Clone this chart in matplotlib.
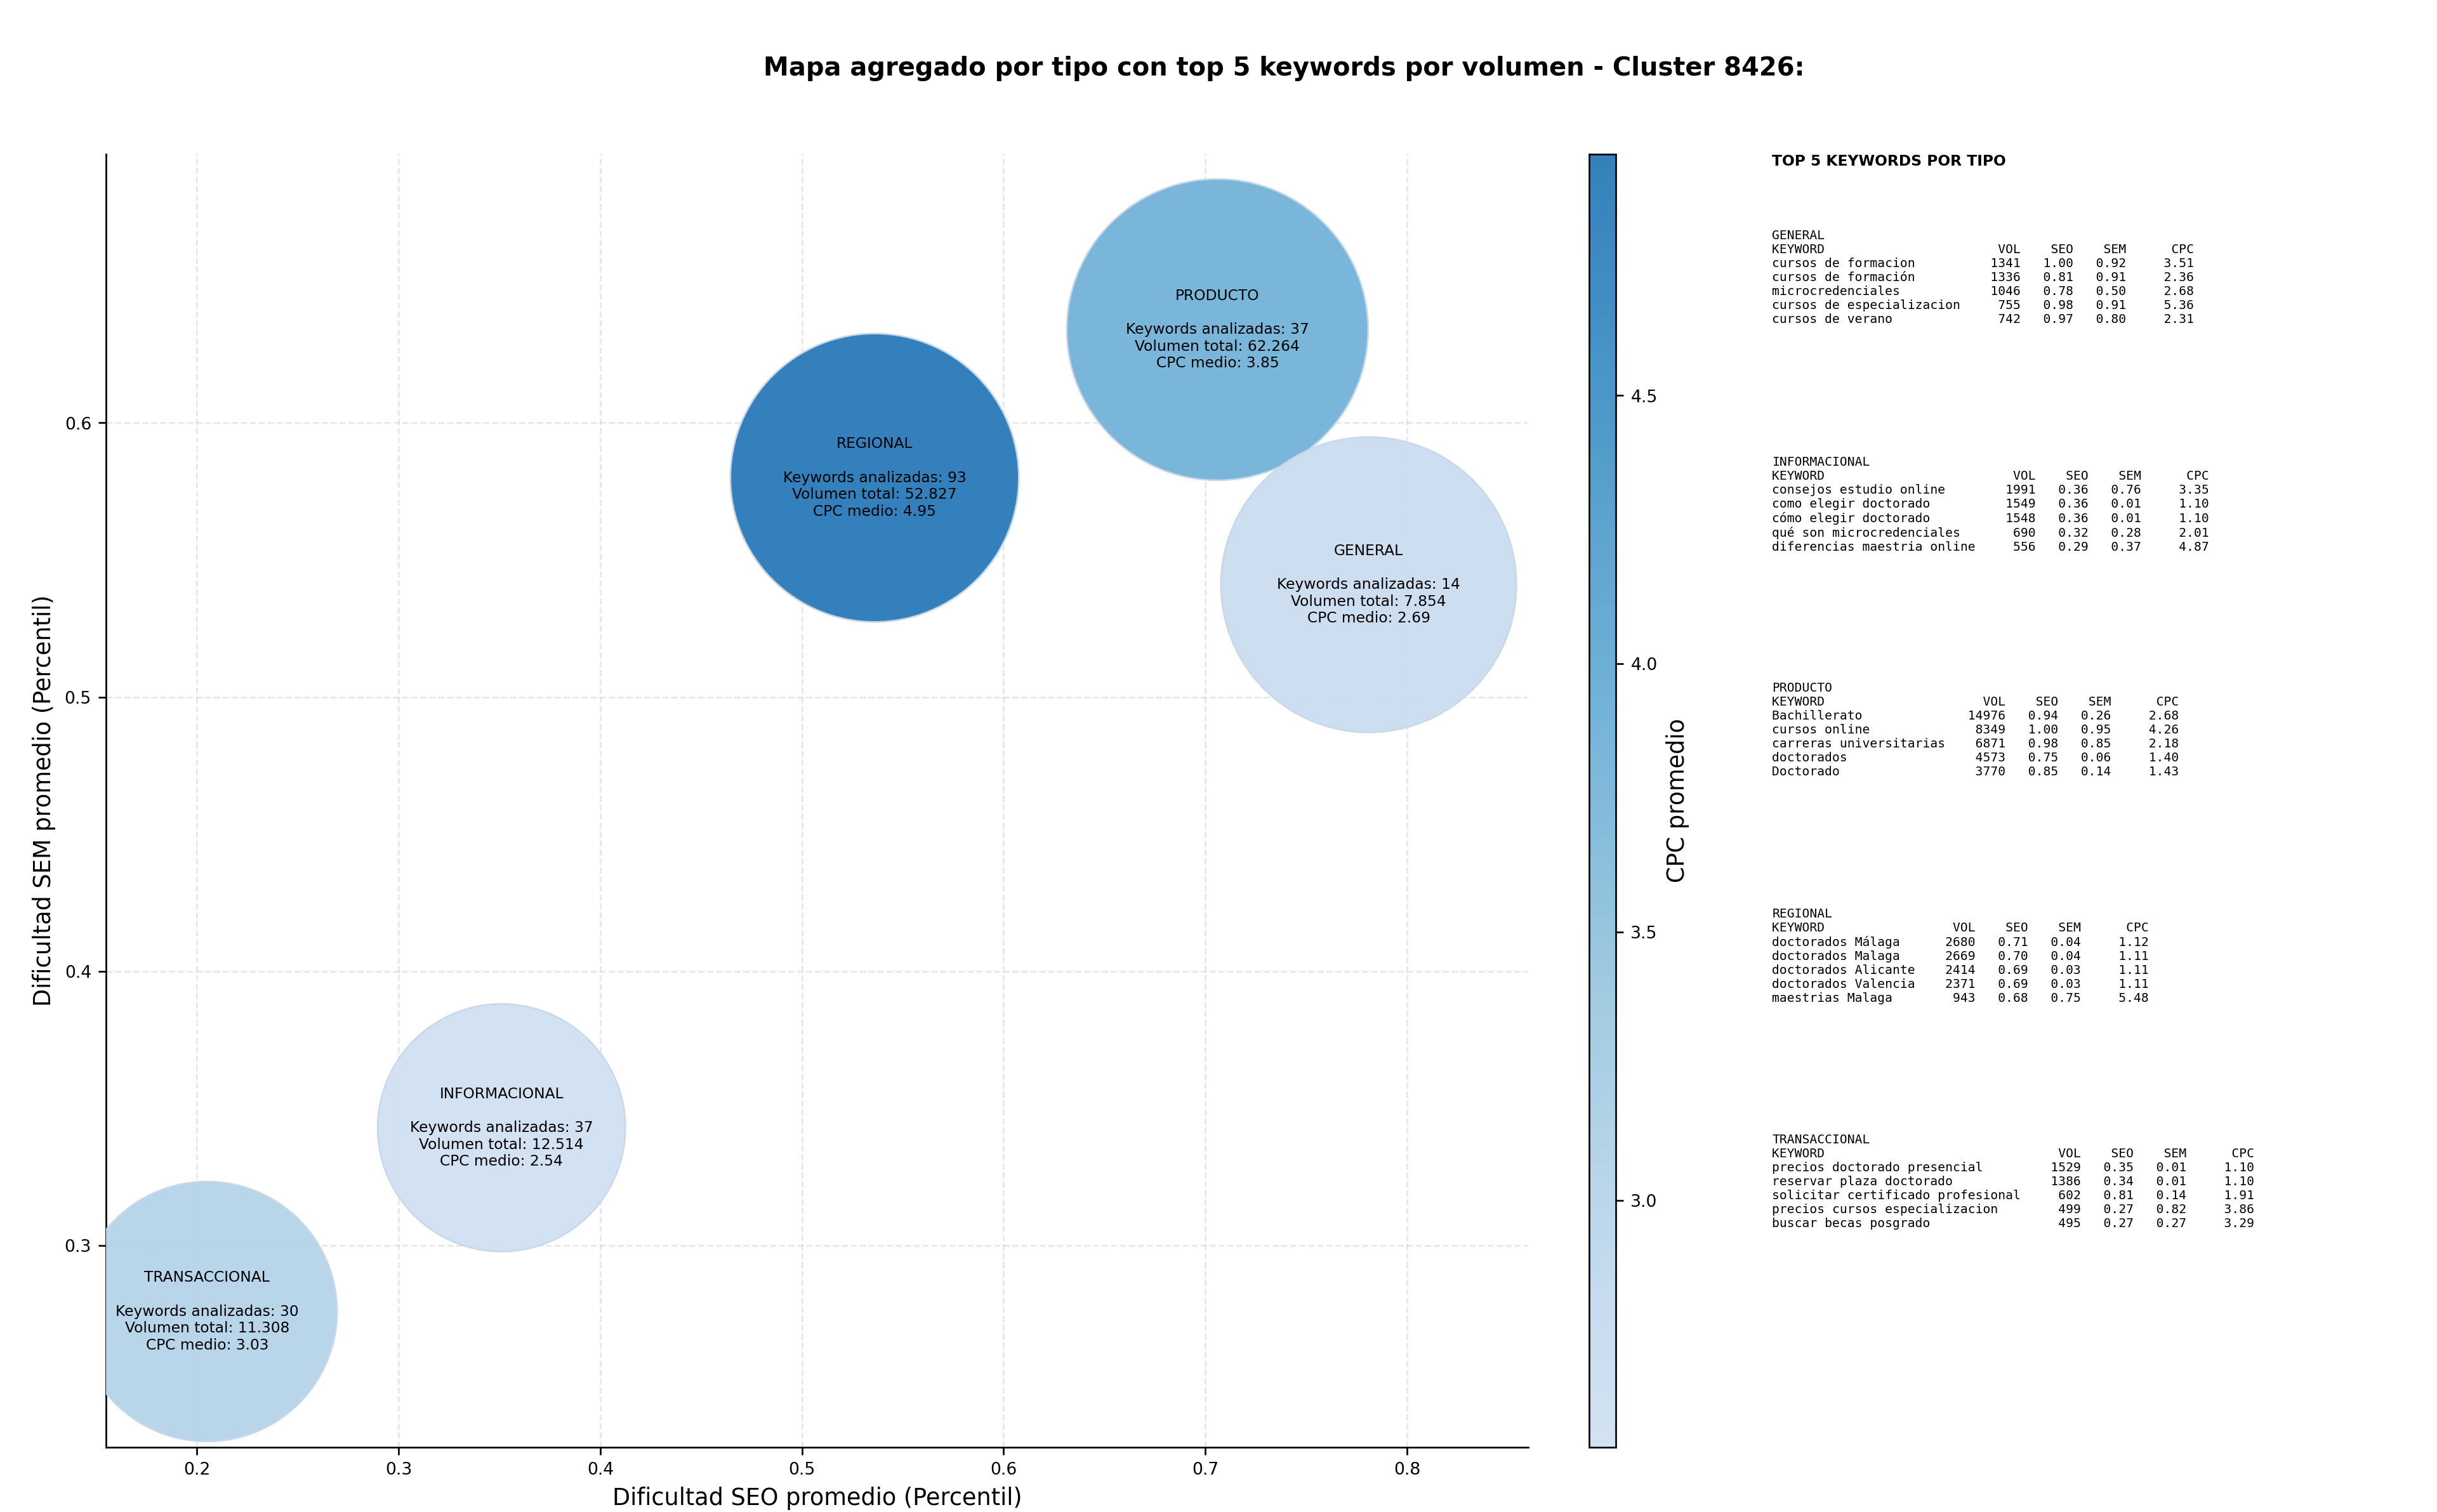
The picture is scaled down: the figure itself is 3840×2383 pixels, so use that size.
import matplotlib
matplotlib.use("Agg")
import matplotlib.pyplot as plt
from matplotlib.colors import LinearSegmentedColormap
import numpy as np

types = ["TRANSACCIONAL", "INFORMACIONAL", "REGIONAL", "PRODUCTO", "GENERAL"]
seo = [0.205, 0.351, 0.536, 0.706, 0.781]
sem = [0.276, 0.343, 0.580, 0.634, 0.541]
n_kw = [30, 37, 93, 37, 14]
vol_total = [11308, 12514, 52827, 62264, 7854]
cpc = [3.03, 2.54, 4.95, 3.85, 2.69]
bubble_size = [15100, 13700, 18600, 20300, 19500]

table_order = ["GENERAL", "INFORMACIONAL", "PRODUCTO", "REGIONAL", "TRANSACCIONAL"]
kw_general = ["cursos de formacion", "cursos de formación", "microcredenciales", "cursos de especializacion", "cursos de verano"]
vol_general = [1341, 1336, 1046, 755, 742]
seo_general = [1.00, 0.81, 0.78, 0.98, 0.97]
sem_general = [0.92, 0.91, 0.50, 0.91, 0.80]
cpc_general = [3.51, 2.36, 2.68, 5.36, 2.31]
kw_info = ["consejos estudio online", "como elegir doctorado", "cómo elegir doctorado", "qué son microcredenciales", "diferencias maestria online"]
vol_info = [1991, 1549, 1548, 690, 556]
seo_info = [0.36, 0.36, 0.36, 0.32, 0.29]
sem_info = [0.76, 0.01, 0.01, 0.28, 0.37]
cpc_info = [3.35, 1.10, 1.10, 2.01, 4.87]
kw_prod = ["Bachillerato", "cursos online", "carreras universitarias", "doctorados", "Doctorado"]
vol_prod = [14976, 8349, 6871, 4573, 3770]
seo_prod = [0.94, 1.00, 0.98, 0.75, 0.85]
sem_prod = [0.26, 0.95, 0.85, 0.06, 0.14]
cpc_prod = [2.68, 4.26, 2.18, 1.40, 1.43]
kw_reg = ["doctorados Málaga", "doctorados Malaga", "doctorados Alicante", "doctorados Valencia", "maestrias Malaga"]
vol_reg = [2680, 2669, 2414, 2371, 943]
seo_reg = [0.71, 0.70, 0.69, 0.69, 0.68]
sem_reg = [0.04, 0.04, 0.03, 0.03, 0.75]
cpc_reg = [1.12, 1.11, 1.11, 1.11, 5.48]
kw_trans = ["precios doctorado presencial", "reservar plaza doctorado", "solicitar certificado profesional", "precios cursos especializacion", "buscar becas posgrado"]
vol_trans = [1529, 1386, 602, 499, 495]
seo_trans = [0.35, 0.34, 0.81, 0.27, 0.27]
sem_trans = [0.01, 0.01, 0.14, 0.82, 0.27]
cpc_trans = [1.10, 1.10, 1.91, 3.86, 3.29]

tables = {
    "GENERAL": (kw_general, vol_general, seo_general, sem_general, cpc_general),
    "INFORMACIONAL": (kw_info, vol_info, seo_info, sem_info, cpc_info),
    "PRODUCTO": (kw_prod, vol_prod, seo_prod, sem_prod, cpc_prod),
    "REGIONAL": (kw_reg, vol_reg, seo_reg, sem_reg, cpc_reg),
    "TRANSACCIONAL": (kw_trans, vol_trans, seo_trans, sem_trans, cpc_trans),
}

base = plt.get_cmap("Blues")
cmap = LinearSegmentedColormap.from_list("blues_trunc", base(np.linspace(0.2, 0.72, 256)))

fig = plt.figure(figsize=(16, 9.93), dpi=240)
ax = fig.add_axes([0.0436, 0.043, 0.5834, 0.855])
cax = fig.add_axes([0.652, 0.043, 0.011, 0.855])

sc = ax.scatter(seo, sem, s=bubble_size, c=cpc, cmap=cmap, vmin=min(cpc), vmax=max(cpc),
                alpha=0.95, edgecolors="#c8d8e8", linewidths=0.8, zorder=3)
for t, x, y, n, v, c in zip(types, seo, sem, n_kw, vol_total, cpc):
    vs = f"{v:,}".replace(",", ".")
    ax.text(x, y, f"{t}\n\nKeywords analizadas: {n}\nVolumen total: {vs}\nCPC medio: {c:.2f}",
            ha="center", va="center", fontsize=7, zorder=4)

ax.set_xlim(0.155, 0.860)
ax.set_ylim(0.2266, 0.698)
ax.set_xticks([0.2, 0.3, 0.4, 0.5, 0.6, 0.7, 0.8])
ax.set_yticks([0.3, 0.4, 0.5, 0.6])
ax.tick_params(labelsize=8)
ax.grid(True, linestyle="--", alpha=0.3, zorder=0)
ax.spines["top"].set_visible(False)
ax.spines["right"].set_visible(False)
ax.set_xlabel("Dificultad SEO promedio (Percentil)", fontsize=11)
ax.set_ylabel("Dificultad SEM promedio (Percentil)", fontsize=11)

cb = fig.colorbar(sc, cax=cax)
cb.set_label("CPC promedio", fontsize=11)
cb.ax.tick_params(labelsize=8)

fig.suptitle("Mapa agregado por tipo con top 5 keywords por volumen - Cluster 8426:",
             fontsize=12, fontweight="bold", y=0.963, x=0.527)

fig.text(0.7272, 0.898, "TOP 5 KEYWORDS POR TIPO", fontsize=7, fontweight="bold", va="top")
for i, t in enumerate(table_order):
    kws, vols, seos, sems, cpcs = tables[t]
    w = max(len(k) for k in kws) + 2
    lines = [t, f"{'KEYWORD':<{w}}{'VOL':>6}{'SEO':>7}{'SEM':>7}{'CPC':>9}"]
    for k, v, s1, s2, c in zip(kws, vols, seos, sems, cpcs):
        lines.append(f"{k:<{w}}{v:>6}{s1:>7.2f}{s2:>7.2f}{c:>9.2f}")
    fig.text(0.7272, 0.848 - i * 0.1495, "\n".join(lines), family="DejaVu Sans Mono",
             fontsize=5.9, va="top", linespacing=1.2)

fig.savefig("out.png", dpi=240)
